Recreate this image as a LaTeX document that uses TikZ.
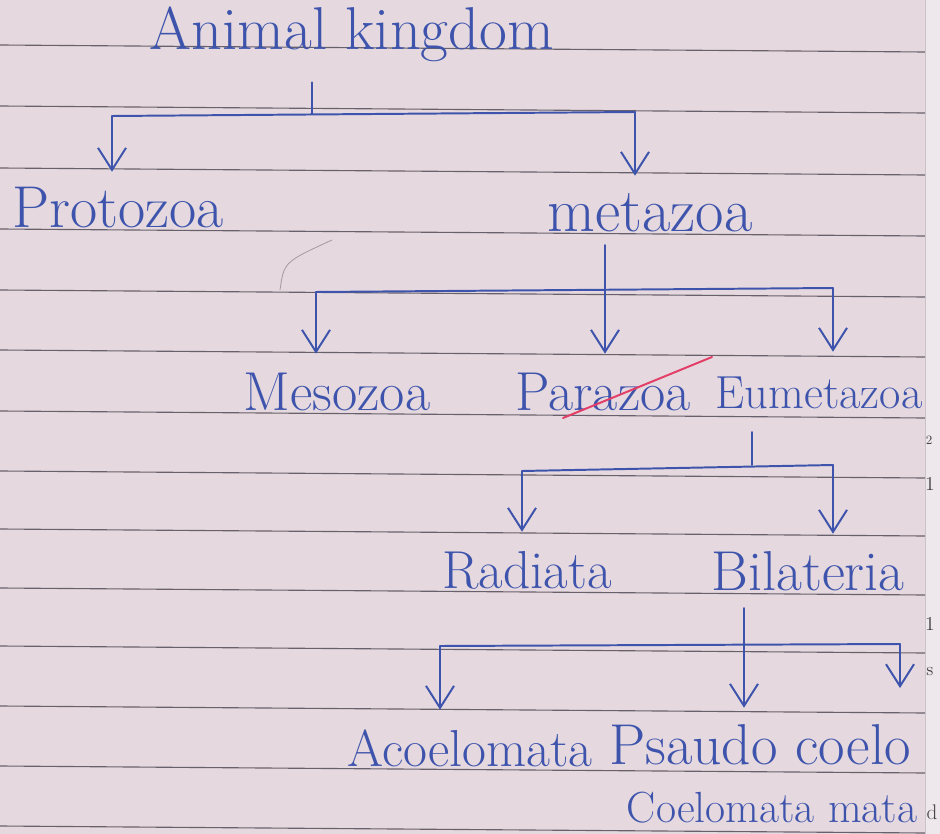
\documentclass[tikz,border=0pt]{standalone}
\usetikzlibrary{arrows.meta}
\definecolor{paper}{RGB}{229,217,223}
\definecolor{paperR}{RGB}{238,231,235}
\definecolor{rule}{RGB}{104,97,108}
\definecolor{ink}{RGB}{62,84,172}
\definecolor{redink}{RGB}{226,62,104}
\definecolor{pencil}{RGB}{165,155,165}
\begin{document}
\begin{tikzpicture}[x=0.025cm, y=-0.025cm,
    pen/.style={draw=ink, line width=1.4pt, line cap=round, line join=round},
    vtip/.style={pen, -{Straight Barb[length=5.5mm, width=7mm, line width=1.4pt]}},
    word/.style={text=ink, font=\fontsize{#1}{#1}\selectfont, anchor=base,
        text height=0.9cm, text depth=0.3cm, inner xsep=2pt, inner ysep=0.5cm},
    word/.default=35]

    % hoja rayada
    \fill[paper] (0,0) rectangle (925,834);
    \fill[paperR] (925,0) rectangle (940,834);
    \useasboundingbox (0,0) rectangle (940,834);
    \foreach \y in {45,106,168,229,290,350,411,471,529,588,646,706,766,826}
        \draw[rule, line width=0.8pt] (0,\y) -- (925,\y+7);
    \draw[pencil!60, line width=0.5pt] (925,0) -- (925,834);

    % Nombres
    \node[word=43] (reino) at (352,50) {Animal kingdom};
    \node[word=42] (proto) at (118,228) {Protozoa};
    \node[word=44] (meta) at (650,232) {metazoa};
    \node[word=39] (meso) at (337,410) {Mesozoa};
    \node[word=39] (para) at (603,410) {Parazoa};
    \node[word=33] (eume) at (819,408) {Eumetazoa};
    \node[word=38] (radi) at (527,588) {Radiata};
    \node[word=40] (bila) at (808,590) {Bilateria};
    \node[word=37] (acoe) at (470,766) {Acoelomata};
    \node[word=41] (pseu) at (760,764) {Psaudo coelo};
    \node[word=31] (coel) at (772,822) {Coelomata mata};

    % Animal kingdom -> Protozoa, metazoa
    \coordinate (b1l) at (112,116);
    \coordinate (b1r) at (635,112);
    \coordinate (s1) at (312,114);
    \draw[pen] (reino.south -| s1) -- (s1);
    \draw[pen] (b1l) -- (b1r);
    \draw[vtip] (b1l) -- (b1l |- proto.north);
    \draw[vtip] (b1r) -- (b1r |- meta.north);

    % metazoa -> Mesozoa, Parazoa, Eumetazoa
    \coordinate (s2) at (605,245);
    \coordinate (b2l) at (316,292);
    \coordinate (b2r) at (833,288);
    \draw[pen] (b2l) -- (b2r);
    \draw[vtip] (s2) -- (s2 |- para.north);
    \draw[vtip] (b2l) -- (b2l |- meso.north);
    \draw[vtip] (b2r) -- (b2r |- eume.north);
    \draw[pencil, line width=0.6pt] (280,290) .. controls (284,262) .. (332,240);

    % Parazoa tachado
    \draw[redink, line width=1.4pt, line cap=round] (563,418) -- (712,357);

    % Eumetazoa -> Radiata, Bilateria
    \coordinate (s3) at (752,432);
    \coordinate (b3l) at (522,471);
    \coordinate (b3r) at (833,465);
    \draw[pen] (s3) -- (s3 |- b3r);
    \draw[pen] (b3l) -- (b3r);
    \draw[vtip] (b3l) -- (b3l |- radi.north);
    \draw[vtip] (b3r) -- (b3r |- bila.north);

    % Bilateria -> Acoelomata, Psaudo coelo, Coelomata
    \coordinate (s4) at (744,608);
    \coordinate (b4l) at (440,646);
    \coordinate (b4r) at (900,644);
    \draw[pen] (b4l) -- (b4r);
    \draw[vtip] (s4) -- (s4 |- pseu.north);
    \draw[vtip] (b4l) -- (b4l |- acoe.north);
    \draw[vtip, shorten >=14] (b4r) -- (b4r |- pseu.north);

    % marcas de la otra hoja
    \foreach \t/\x/\y/\s in {2/929/440/9, 1/930/484/14, 1/930/624/14, s/930/672/13, d/932/812/15}
        \node[font=\fontsize{\s}{\s}\selectfont, text=black!75, inner sep=0pt] at (\x,\y) {\t};
\end{tikzpicture}
\end{document}
